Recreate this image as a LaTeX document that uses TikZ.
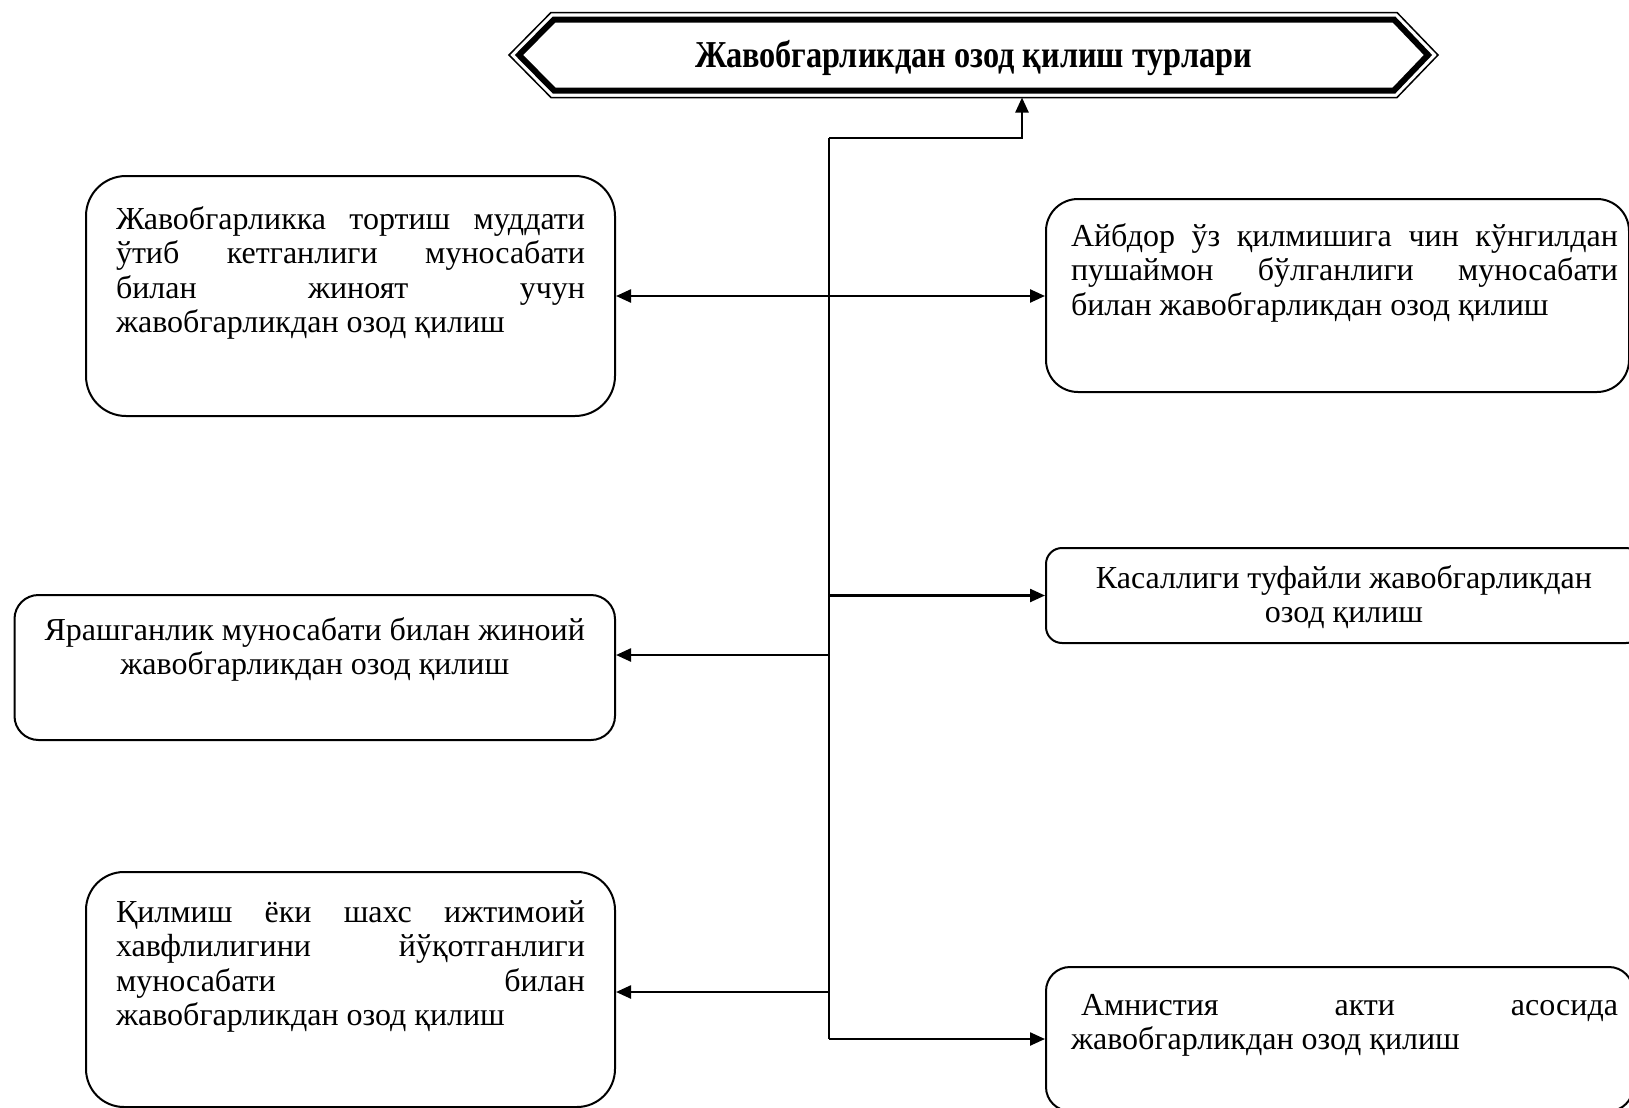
\documentclass[tikz,border=0pt]{standalone}
\usepackage{graphicx}
\usepackage{fontspec}
\setmainfont{Liberation Serif}
\usetikzlibrary{arrows.meta}
\tikzset{
	card/.style={draw, line width=1pt, anchor=north west, inner xsep=15pt, inner ysep=12pt, font=\fontsize{16}{17.25}\selectfont},
	link/.style={->, line width=1.2pt},
	trunk/.style={line width=1.2pt}
}
\newcommand{\cardtext}[3]{\parbox[c][#2][t]{#1}{\hyphenpenalty=10000\tolerance=10000\strut#3}}

\begin{document}
\begin{tikzpicture}[
		x=0.5pt, y=-0.5pt,
		>={Triangle[length=7.5pt, width=6.5pt]},
		frame/.style={line width=0.75pt, line join=miter},
		band/.style={line width=3pt, line join=miter},
		heading/.style={font=\bfseries\fontsize{19}{22}\selectfont}
		]
		\useasboundingbox (0,0) rectangle (1629,1108);
		
		% heading
		\node[heading] (title) at (973.5,58) {\scalebox{0.85}[1]{Жавобгарликдан озод қилиш турлари}};
		\draw[frame] (509,55) -- (551,12.5) -- (1397,12.5) -- (1438,55) -- (1397,97.5) -- (551,97.5) -- cycle;
		\draw[band] (519,55) -- (554,19.5) -- (1394,19.5) -- (1428,55) -- (1394,90.5) -- (554,90.5) -- cycle;
		
		% left column
		\node[card, rounded corners=20pt, inner ysep=14.5pt] (lapse) at (85,175) {\cardtext{234.5pt}{91pt}{Жавобгарликка тортиш муддати\linebreak ўтиб кетганлиги муносабати\linebreak билан жиноят учун\linebreak жавобгарликдан озод қилиш}};
		\node[card, rounded corners=12pt, inner ysep=10.5pt] (reconcile) at (13.5,594) {\cardtext{270.25pt}{51.5pt}{\centering Ярашганлик муносабати билан жиноий\\ жавобгарликдан озод қилиш}};
		\node[card, rounded corners=19pt, inner ysep=13pt] (harmless) at (85,871) {\cardtext{234.5pt}{91.5pt}{Қилмиш ёки шахс ижтимоий\linebreak хавфлилигини йўқотганлиги\linebreak муносабати билан\linebreak жавобгарликдан озод қилиш}};
		
		% right column (cut by the page edge)
		\node[card, rounded corners=16pt, inner xsep=5.5pt, inner ysep=11.5pt] (remorse) at (1045,198) {\hspace*{7pt}\cardtext{273.5pt}{73.5pt}{Айбдор ўз қилмишига чин кўнгилдан\linebreak пушаймон бўлганлиги муносабати\linebreak билан жавобгарликдан озод қилиш}};
		\node[card, rounded corners=8pt, inner xsep=6pt, inner ysep=8pt] (illness) at (1045,547) {\cardtext{286pt}{31.5pt}{\centering Касаллиги туфайли жавобгарликдан\\ озод қилиш}};
		\node[card, rounded corners=12pt, inner xsep=7.5pt] (amnesty) at (1045,966) {\hspace*{5pt}\cardtext{273.5pt}{48pt}{\hspace*{5pt}Амнистия акти асосида\linebreak жавобгарликдан озод қилиш}};
		
		% connectors
		\coordinate (hub) at (829,138);
		\coordinate (titlefoot) at (1022,97.5);
		\coordinate (toreconcile) at (829,655);
		\coordinate (toharmless) at (829,992);
		\draw[link] (hub) -| (titlefoot);
		\draw[trunk] (hub) -- (hub |- amnesty.west);
		\draw[link, <->] (lapse.east) -- (lapse.east -| remorse.west);
		\draw[link] (hub |- illness.west) -- (illness.west);
		\draw[link] (toreconcile) -- (toreconcile -| reconcile.east);
		\draw[link] (toharmless) -- (toharmless -| harmless.east);
		\draw[link] (hub |- amnesty.west) -- (amnesty.west);
		
	\end{tikzpicture}
\end{document}
